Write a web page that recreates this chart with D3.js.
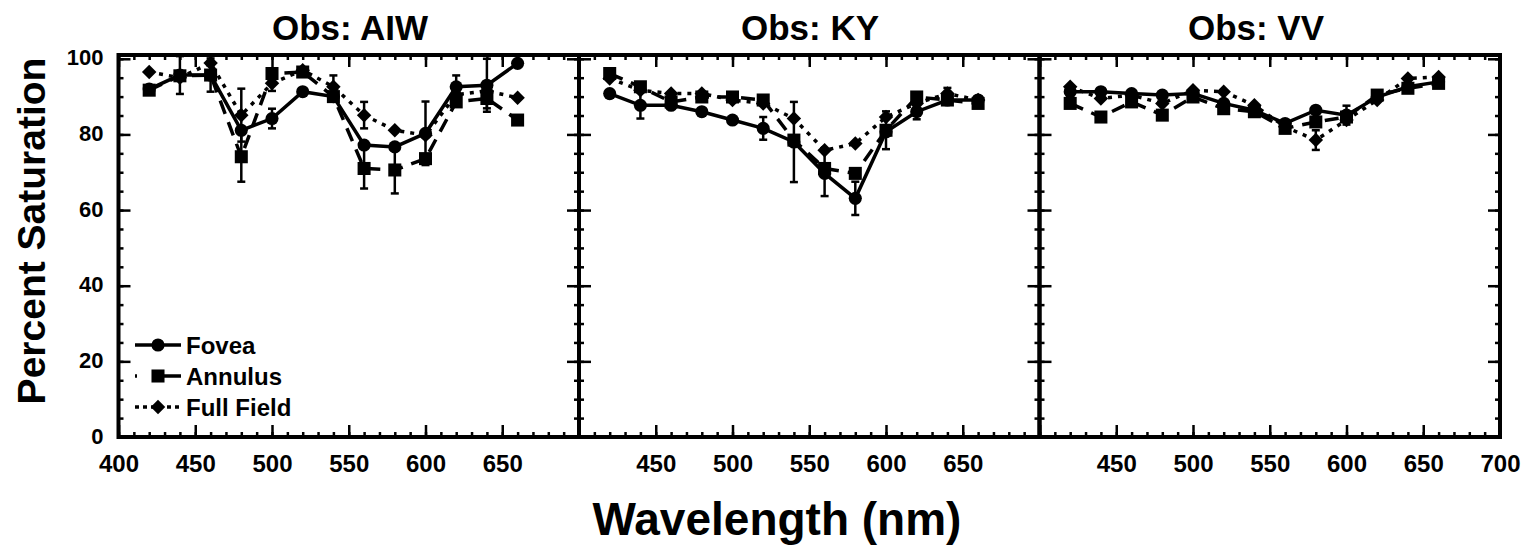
<!DOCTYPE html>
<html>
<head>
<meta charset="utf-8">
<script src="https://cdn.jsdelivr.net/npm/d3@7"></script>
<style>
  html, body { margin: 0; padding: 0; background: #fff; }
  svg text { font-family: "Liberation Sans", Arial, Helvetica, sans-serif; font-weight: bold; fill: #000; }
</style>
</head>
<body>
<script>
// Wavelengths tested (nm)
const wavelengths = [420, 440, 460, 480, 500, 520, 540, 560, 580, 600, 620, 640, 660];

const observers = ["AIW", "KY", "VV"];
const seriesNames = ["Fovea", "Annulus", "Full Field"];

// Percent saturation, observer AIW
const foveaAIW   = [92.0, 95.7, 95.7, 81.1, 84.2, 91.3, 90.0, 77.2, 76.7, 80.3, 92.6, 93.0, 98.8];
const annulusAIW = [91.7, 95.5, 95.7, 74.1, 96.1, 96.5, 90.0, 71.0, 70.6, 73.6, 88.6, 89.5, 83.8];
const fullAIW    = [96.5, 95.0, 98.9, 85.1, 93.5, 97.0, 92.6, 85.1, 81.1, 79.8, 90.5, 91.5, 89.7];
const foveaErrAIW   = [0, 5.0, 4.4, 0, 2.6, 0, 0, 0, 0, 8.4, 3.0, 7.0, 0];
const annulusErrAIW = [0, 0, 0, 6.6, 0, 0, 0, 5.3, 6.2, 0, 0, 2.6, 0];
const fullErrAIW    = [0, 0, 0, 7.0, 2.0, 0, 3.0, 3.5, 0, 0, 0, 0, 0];

// Percent saturation, observer KY
const foveaKY   = [90.8, 87.7, 87.7, 86.0, 83.8, 81.6, 78.0, 69.7, 63.1, 80.7, 86.0, 89.1, 89.1];
const annulusKY = [96.1, 92.6, 88.6, 89.9, 89.9, 89.1, 78.5, 71.0, 69.7, 81.1, 89.9, 89.1, 88.2];
const fullKY    = [94.8, 91.7, 90.8, 90.8, 89.1, 88.2, 84.2, 75.8, 77.6, 84.6, 88.2, 90.8, 89.1];
const foveaErrKY   = [0, 3.5, 0, 0, 0, 3.0, 10.6, 6.0, 4.4, 0, 2.0, 0, 0];
const annulusErrKY = [0, 0, 0, 0, 0, 0, 0, 0, 0, 5.0, 0, 0, 0];
const fullErrKY    = [0, 0, 0, 0, 0, 0, 0, 0, 0, 0, 0, 1.5, 0];

// Percent saturation, observer VV
const foveaVV   = [91.3, 91.3, 90.8, 90.4, 90.8, 88.2, 86.4, 82.9, 86.4, 85.1, 89.9, 92.6, 93.9];
const annulusVV = [88.2, 84.6, 88.6, 85.1, 89.9, 86.8, 86.0, 81.6, 83.3, 84.6, 90.4, 92.2, 93.5];
const fullVV    = [92.6, 89.5, 90.4, 88.2, 91.7, 91.3, 87.7, 82.0, 78.5, 83.8, 89.1, 94.8, 95.2];
const foveaErrVV   = [0, 0, 0, 0, 0, 0, 0, 0, 0, 2.5, 0, 0, 0];
const annulusErrVV = [0, 0, 0, 0, 0, 0, 0, 0, 0, 0, 0, 0, 0];
const fullErrVV    = [0, 0, 0, 0, 0, 0, 0, 0, 2.6, 0, 0, 0, 0];

// Axis tick labels
const xTickLabelsByPanel = [
  [400, 450, 500, 550, 600, 650],
  [450, 500, 550, 600, 650],
  [450, 500, 550, 600, 650, 700]
];
const yTickLabels = [0, 20, 40, 60, 80, 100];

const panelData = [
  { values: [foveaAIW, annulusAIW, fullAIW], errors: [foveaErrAIW, annulusErrAIW, fullErrAIW] },
  { values: [foveaKY, annulusKY, fullKY],    errors: [foveaErrKY, annulusErrKY, fullErrKY] },
  { values: [foveaVV, annulusVV, fullVV],    errors: [foveaErrVV, annulusErrVV, fullErrVV] }
];

// ---- layout ----
const W = 1527, H = 559;
const panelLeft = [118.5, 579, 1039.5];
const panelW = 460.5;
const plotTop = 55, plotBottom = 437;
const titleX = [350, 810, 1256];

const lineStyles = [
  { dash: null,   legendDash: null,      symbol: "circle"  },
  { dash: "14,9", legendDash: "2,15,40", symbol: "square"  },
  { dash: "4,6",  legendDash: "4,4",     symbol: "diamond" }
];

const svg = d3.select("body").append("svg")
  .attr("width", W).attr("height", H);

const y = d3.scaleLinear().domain([0, 101]).range([plotBottom, plotTop]);

function markerPath(kind) {
  if (kind === "circle") return d3.symbol(d3.symbolCircle, 135)();
  if (kind === "square") return d3.symbol(d3.symbolSquare, 170)();
  return d3.symbol(d3.symbolSquare, 105)();
}
function markerTransform(kind, px, py) {
  return kind === "diamond" ? `translate(${px},${py}) rotate(45)` : `translate(${px},${py})`;
}

const range = (a, b, s) => d3.range(a, b + s / 2, s);

observers.forEach((obs, i) => {
  const x = d3.scaleLinear().domain([400, 700]).range([panelLeft[i], panelLeft[i] + panelW]);
  const g = svg.append("g");

  // bottom axis: labelled majors and minor ticks, pointing inward
  const bMaj = g.append("g").attr("transform", `translate(0,${plotBottom})`)
    .call(d3.axisBottom(x).tickValues(range(400, 700, 50)).tickSize(-12).tickPadding(18)
      .tickFormat(d => xTickLabelsByPanel[i].includes(d) ? d : ""));
  const bMin = g.append("g").attr("transform", `translate(0,${plotBottom})`)
    .call(d3.axisBottom(x).tickValues(range(400, 700, 10)).tickSize(-5).tickFormat(""));
  // top axis
  const tMaj = g.append("g").attr("transform", `translate(0,${plotTop})`)
    .call(d3.axisTop(x).tickValues(range(400, 700, 50)).tickSize(-12).tickFormat(""));
  const tMin = g.append("g").attr("transform", `translate(0,${plotTop})`)
    .call(d3.axisTop(x).tickValues(range(400, 700, 10)).tickSize(-5).tickFormat(""));
  // left and right axes
  const lMaj = g.append("g").attr("transform", `translate(${panelLeft[i]},0)`)
    .call(d3.axisLeft(y).tickValues(yTickLabels).tickSize(-12).tickPadding(15)
      .tickFormat(d => i === 0 ? d : ""));
  const lMin = g.append("g").attr("transform", `translate(${panelLeft[i]},0)`)
    .call(d3.axisLeft(y).tickValues(range(0, 100, 5)).tickSize(-5).tickFormat(""));
  const rMaj = g.append("g").attr("transform", `translate(${panelLeft[i] + panelW},0)`)
    .call(d3.axisRight(y).tickValues(yTickLabels).tickSize(-12).tickFormat(""));
  const rMin = g.append("g").attr("transform", `translate(${panelLeft[i] + panelW},0)`)
    .call(d3.axisRight(y).tickValues(range(0, 100, 5)).tickSize(-5).tickFormat(""));

  [bMaj, bMin, tMaj, tMin, lMaj, lMin, rMaj, rMin].forEach(a => {
    a.select(".domain").remove();
    a.selectAll(".tick line").attr("stroke", "#000").attr("stroke-width", 2.5);
  });
  bMaj.selectAll(".tick text").attr("font-size", 24).attr("font-weight", "bold")
    .attr("font-family", "Liberation Sans, Arial, sans-serif").attr("fill", "#000");
  lMaj.selectAll(".tick text").attr("font-size", 22).attr("font-weight", "bold")
    .attr("font-family", "Liberation Sans, Arial, sans-serif").attr("fill", "#000")
    .attr("dy", "0.28em");

  // frame
  g.append("rect")
    .attr("x", panelLeft[i]).attr("y", plotTop)
    .attr("width", panelW).attr("height", plotBottom - plotTop)
    .attr("fill", "none").attr("stroke", "#000").attr("stroke-width", 4);

  // title
  g.append("text").attr("x", titleX[i]).attr("y", 40)
    .attr("text-anchor", "middle").attr("font-size", 35)
    .text("Obs: " + obs);

  // series
  const data = panelData[i];
  const line = d3.line().x(d => x(d[0])).y(d => y(d[1]));
  data.values.forEach((vals, s) => {
    const pts = wavelengths.map((w, k) => [w, vals[k], data.errors[s][k]]);
    const sg = g.append("g");
    // error bars
    pts.filter(p => p[2] > 0).forEach(p => {
      const px = x(p[0]), y1 = y(p[1] - p[2]), y2 = y(p[1] + p[2]);
      sg.append("line").attr("x1", px).attr("x2", px).attr("y1", y1).attr("y2", y2)
        .attr("stroke", "#000").attr("stroke-width", 2.5);
      [y1, y2].forEach(yy => sg.append("line")
        .attr("x1", px - 4).attr("x2", px + 4).attr("y1", yy).attr("y2", yy)
        .attr("stroke", "#000").attr("stroke-width", 2.5));
    });
    sg.append("path").datum(pts).attr("d", line)
      .attr("fill", "none").attr("stroke", "#000").attr("stroke-width", 3.5)
      .attr("stroke-dasharray", lineStyles[s].dash);
    sg.selectAll(".m").data(pts).enter().append("path")
      .attr("d", markerPath(lineStyles[s].symbol))
      .attr("transform", p => markerTransform(lineStyles[s].symbol, x(p[0]), y(p[1])))
      .attr("fill", "#000");
  });
});

// legend inside first panel
const legendRows = [345, 376, 407];
const lg = svg.append("g");
seriesNames.forEach((name, s) => {
  const ly = legendRows[s];
  lg.append("line").attr("x1", 135).attr("x2", 181).attr("y1", ly).attr("y2", ly)
    .attr("stroke", "#000").attr("stroke-width", 3.5)
    .attr("stroke-dasharray", lineStyles[s].legendDash);
  lg.append("path").attr("d", markerPath(lineStyles[s].symbol))
    .attr("transform", markerTransform(lineStyles[s].symbol, 158, ly)).attr("fill", "#000");
  lg.append("text").attr("x", 186).attr("y", ly).attr("dy", "0.36em")
    .attr("font-size", 24).text(name);
});

// axis titles
svg.append("text").attr("transform", "translate(45,231) rotate(-90)")
  .attr("text-anchor", "middle").attr("font-size", 39).text("Percent Saturation");
svg.append("text").attr("x", 777).attr("y", 535)
  .attr("text-anchor", "middle").attr("font-size", 46).text("Wavelength (nm)");
</script>
</body>
</html>
